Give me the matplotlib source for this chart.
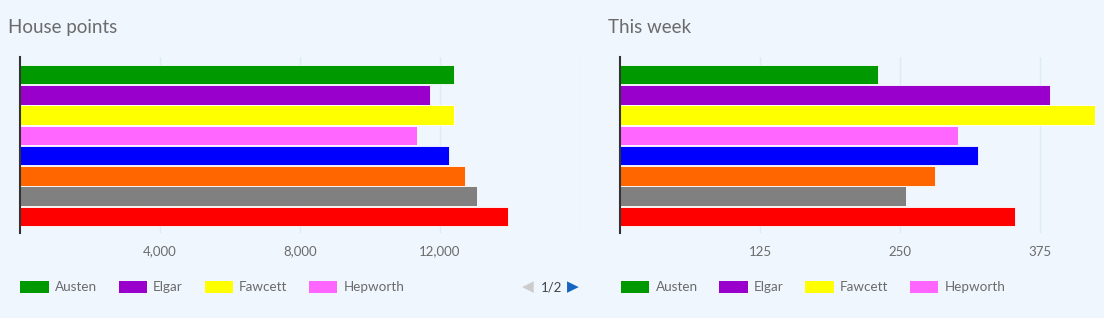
import matplotlib.pyplot as plt
from matplotlib.patches import Patch
from matplotlib.ticker import FuncFormatter

houses = ['Austen', 'Elgar', 'Fawcett', 'Hepworth', 'Newton', 'Pankhurst', 'Seacole', 'Turing']
colours = ['#009900', '#9900cc', '#ffff00', '#ff66ff', '#0000ff', '#ff6600', '#808080', '#ff0000']
total_points = [12400, 11710, 12390, 11340, 12260, 12710, 13060, 13940]
week_points = [230, 384, 424, 302, 320, 281, 255, 353]

bg = '#eff6fe'
grid_col = '#dcebf8'
text_col = '#6b6b6b'

plt.rcParams['font.family'] = ['Lato', 'DejaVu Sans']

fig = plt.figure(figsize=(11.04, 3.18), dpi=100, facecolor=bg)

ax1 = fig.add_axes([20 / 1104, 85 / 318, 560 / 1104, 176 / 318])
ax2 = fig.add_axes([620 / 1104, 85 / 318, 475 / 1104, 176 / 318])

y = list(range(len(houses)))


def style(ax, title, xmax, ticks, fmt, width_px):
    ax.set_facecolor(bg)
    ax.set_xlim(0, xmax)
    ax.set_ylim(7.82, -0.87)
    ax.set_xticks(ticks)
    ax.xaxis.set_major_formatter(FuncFormatter(fmt))
    ax.set_yticks([])
    ax.grid(axis='x', color=grid_col, linewidth=1)
    ax.set_axisbelow(True)
    for s in ['top', 'right', 'bottom']:
        ax.spines[s].set_visible(False)
    ax.spines['left'].set_color('#333333')
    ax.spines['left'].set_linewidth(1.5)
    ax.tick_params(axis='x', length=0, pad=9, labelsize=9.5, labelcolor=text_col)
    ax.set_title(title, loc='left', fontsize=13.5, color=text_col, pad=17,
                 x=-12 / width_px)


ax1.barh(y, total_points, height=0.97, color=colours, edgecolor='white', linewidth=0.6)
ax2.barh(y, week_points, height=0.97, color=colours, edgecolor='white', linewidth=0.6)

style(ax1, 'House points', 16000, [4000, 8000, 12000, 16000],
      lambda v, p: '' if v >= 16000 else f'{int(v):,}', 560)
style(ax2, 'This week', max(week_points), [125, 250, 375], lambda v, p: f'{int(v)}', 475)

for ax in (ax1, ax2):
    handles = [Patch(facecolor=c, edgecolor='none') for c in colours[:4]]
    ax.legend(handles, houses[:4], ncol=4, loc='upper left',
              bbox_to_anchor=(-0.009, -0.24), frameon=False, fontsize=9.7,
              handlelength=2.1, handleheight=1.05, handletextpad=0.45,
              columnspacing=1.62, borderaxespad=0, labelcolor=text_col)

fig.text(528 / 1104, 1 - 287 / 318, '\u25c0', family='DejaVu Sans', fontsize=11,
         color='#cccccc', ha='center', va='center')
fig.text(552 / 1104, 1 - 287 / 318, '1/2', fontsize=9.5, color='#444444',
         ha='center', va='center')
fig.text(573 / 1104, 1 - 287 / 318, '\u25b6', family='DejaVu Sans', fontsize=11,
         color='#1565c0', ha='center', va='center')

fig.savefig('out.png', dpi=100, facecolor=bg)
